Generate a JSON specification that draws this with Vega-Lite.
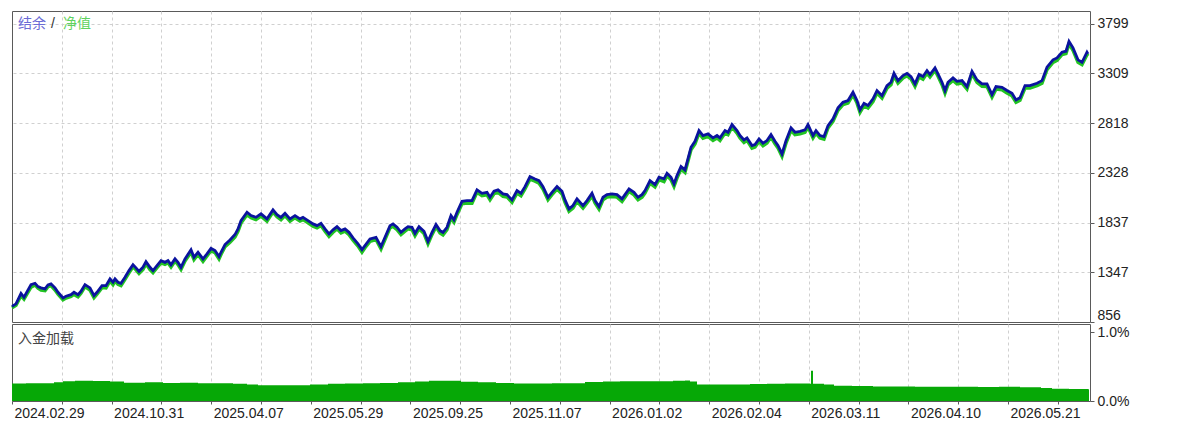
{
  "$schema": "https://vega.github.io/schema/vega-lite/v6.json",
  "background": "white",
  "padding": {"left": 4, "top": 10, "right": 4, "bottom": 0},
  "spacing": 2,
  "bounds": "flush",
  "config": {
    "font": "Liberation Sans",
    "view": {"stroke": "#5a5a5a", "strokeWidth": 1},
    "axis": {
      "labelFont": "Liberation Sans",
      "labelFontSize": 14,
      "labelColor": "#222222",
      "gridColor": "#d0d0d0",
      "gridDash": [3, 3],
      "tickColor": "#5a5a5a",
      "domain": false,
      "title": null
    }
  },
  "datasets": {
    "equity": [
      {"i": 0, "b": 1010, "e": 995},
      {"i": 4, "b": 1035, "e": 1020},
      {"i": 9, "b": 1139, "e": 1115},
      {"i": 12, "b": 1100, "e": 1082},
      {"i": 19, "b": 1225, "e": 1200},
      {"i": 23, "b": 1238, "e": 1222},
      {"i": 26, "b": 1205, "e": 1190},
      {"i": 29, "b": 1193, "e": 1170},
      {"i": 33, "b": 1183, "e": 1165},
      {"i": 36, "b": 1222, "e": 1205},
      {"i": 39, "b": 1232, "e": 1215},
      {"i": 43, "b": 1193, "e": 1172},
      {"i": 46, "b": 1149, "e": 1130},
      {"i": 51, "b": 1094, "e": 1075},
      {"i": 54, "b": 1110, "e": 1092},
      {"i": 59, "b": 1126, "e": 1108},
      {"i": 62, "b": 1149, "e": 1128},
      {"i": 66, "b": 1126, "e": 1105},
      {"i": 69, "b": 1159, "e": 1140},
      {"i": 73, "b": 1225, "e": 1205},
      {"i": 78, "b": 1193, "e": 1170},
      {"i": 82, "b": 1117, "e": 1095},
      {"i": 85, "b": 1149, "e": 1130},
      {"i": 90, "b": 1215, "e": 1195},
      {"i": 94, "b": 1215, "e": 1192},
      {"i": 98, "b": 1281, "e": 1262},
      {"i": 101, "b": 1248, "e": 1225},
      {"i": 103, "b": 1281, "e": 1260},
      {"i": 106, "b": 1248, "e": 1228},
      {"i": 109, "b": 1238, "e": 1215},
      {"i": 113, "b": 1297, "e": 1278},
      {"i": 117, "b": 1363, "e": 1340},
      {"i": 121, "b": 1422, "e": 1400},
      {"i": 124, "b": 1390, "e": 1370},
      {"i": 127, "b": 1356, "e": 1335},
      {"i": 131, "b": 1396, "e": 1375},
      {"i": 134, "b": 1452, "e": 1430},
      {"i": 138, "b": 1396, "e": 1372},
      {"i": 141, "b": 1363, "e": 1342},
      {"i": 145, "b": 1413, "e": 1392},
      {"i": 149, "b": 1462, "e": 1440},
      {"i": 153, "b": 1445, "e": 1425},
      {"i": 156, "b": 1462, "e": 1440},
      {"i": 159, "b": 1420, "e": 1398},
      {"i": 163, "b": 1479, "e": 1458},
      {"i": 166, "b": 1445, "e": 1422},
      {"i": 169, "b": 1396, "e": 1375},
      {"i": 173, "b": 1479, "e": 1458},
      {"i": 179, "b": 1568, "e": 1545},
      {"i": 182, "b": 1495, "e": 1472},
      {"i": 186, "b": 1544, "e": 1522},
      {"i": 191, "b": 1479, "e": 1455},
      {"i": 195, "b": 1528, "e": 1508},
      {"i": 199, "b": 1583, "e": 1560},
      {"i": 203, "b": 1561, "e": 1540},
      {"i": 207, "b": 1501, "e": 1478},
      {"i": 209, "b": 1544, "e": 1522},
      {"i": 213, "b": 1620, "e": 1598},
      {"i": 218, "b": 1666, "e": 1642},
      {"i": 223, "b": 1719, "e": 1695},
      {"i": 226, "b": 1775, "e": 1752},
      {"i": 229, "b": 1857, "e": 1832},
      {"i": 235, "b": 1939, "e": 1915},
      {"i": 239, "b": 1906, "e": 1885},
      {"i": 244, "b": 1889, "e": 1866},
      {"i": 249, "b": 1923, "e": 1900},
      {"i": 255, "b": 1874, "e": 1850},
      {"i": 261, "b": 1962, "e": 1940},
      {"i": 265, "b": 1916, "e": 1895},
      {"i": 269, "b": 1889, "e": 1865},
      {"i": 273, "b": 1929, "e": 1906},
      {"i": 278, "b": 1874, "e": 1850},
      {"i": 283, "b": 1906, "e": 1885},
      {"i": 288, "b": 1874, "e": 1852},
      {"i": 291, "b": 1889, "e": 1866},
      {"i": 296, "b": 1857, "e": 1835},
      {"i": 301, "b": 1824, "e": 1800},
      {"i": 305, "b": 1807, "e": 1785},
      {"i": 309, "b": 1830, "e": 1808},
      {"i": 313, "b": 1775, "e": 1752},
      {"i": 317, "b": 1725, "e": 1700},
      {"i": 321, "b": 1765, "e": 1742},
      {"i": 325, "b": 1797, "e": 1775},
      {"i": 329, "b": 1758, "e": 1735},
      {"i": 333, "b": 1775, "e": 1752},
      {"i": 337, "b": 1741, "e": 1718},
      {"i": 341, "b": 1686, "e": 1662},
      {"i": 346, "b": 1627, "e": 1605},
      {"i": 350, "b": 1570, "e": 1545},
      {"i": 353, "b": 1610, "e": 1588},
      {"i": 358, "b": 1676, "e": 1652},
      {"i": 364, "b": 1692, "e": 1670},
      {"i": 369, "b": 1600, "e": 1576},
      {"i": 373, "b": 1692, "e": 1670},
      {"i": 378, "b": 1807, "e": 1785},
      {"i": 381, "b": 1824, "e": 1800},
      {"i": 385, "b": 1791, "e": 1768},
      {"i": 389, "b": 1741, "e": 1718},
      {"i": 393, "b": 1775, "e": 1752},
      {"i": 396, "b": 1797, "e": 1775},
      {"i": 400, "b": 1791, "e": 1766},
      {"i": 403, "b": 1731, "e": 1708},
      {"i": 407, "b": 1797, "e": 1775},
      {"i": 412, "b": 1751, "e": 1728},
      {"i": 416, "b": 1652, "e": 1628},
      {"i": 420, "b": 1741, "e": 1718},
      {"i": 424, "b": 1817, "e": 1795},
      {"i": 428, "b": 1758, "e": 1735},
      {"i": 431, "b": 1741, "e": 1716},
      {"i": 435, "b": 1791, "e": 1768},
      {"i": 439, "b": 1906, "e": 1882},
      {"i": 442, "b": 1864, "e": 1840},
      {"i": 445, "b": 1939, "e": 1915},
      {"i": 450, "b": 2047, "e": 2022},
      {"i": 455, "b": 2054, "e": 2030},
      {"i": 460, "b": 2054, "e": 2028},
      {"i": 465, "b": 2160, "e": 2135},
      {"i": 470, "b": 2126, "e": 2102},
      {"i": 475, "b": 2136, "e": 2110},
      {"i": 478, "b": 2087, "e": 2062},
      {"i": 482, "b": 2146, "e": 2122},
      {"i": 486, "b": 2160, "e": 2135},
      {"i": 491, "b": 2120, "e": 2095},
      {"i": 495, "b": 2113, "e": 2090},
      {"i": 500, "b": 2061, "e": 2036},
      {"i": 505, "b": 2153, "e": 2128},
      {"i": 509, "b": 2126, "e": 2102},
      {"i": 513, "b": 2192, "e": 2168},
      {"i": 518, "b": 2291, "e": 2265},
      {"i": 523, "b": 2268, "e": 2245},
      {"i": 527, "b": 2251, "e": 2226},
      {"i": 531, "b": 2192, "e": 2168},
      {"i": 536, "b": 2087, "e": 2062},
      {"i": 540, "b": 2136, "e": 2112},
      {"i": 545, "b": 2192, "e": 2168},
      {"i": 550, "b": 2146, "e": 2120},
      {"i": 553, "b": 2061, "e": 2036},
      {"i": 557, "b": 1972, "e": 1948},
      {"i": 561, "b": 2005, "e": 1980},
      {"i": 565, "b": 2071, "e": 2046},
      {"i": 571, "b": 2005, "e": 1980},
      {"i": 575, "b": 2054, "e": 2030},
      {"i": 580, "b": 2126, "e": 2100},
      {"i": 583, "b": 2054, "e": 2030},
      {"i": 587, "b": 1995, "e": 1970},
      {"i": 591, "b": 2087, "e": 2062},
      {"i": 595, "b": 2113, "e": 2088},
      {"i": 600, "b": 2120, "e": 2095},
      {"i": 605, "b": 2113, "e": 2088},
      {"i": 610, "b": 2071, "e": 2046},
      {"i": 613, "b": 2113, "e": 2088},
      {"i": 617, "b": 2170, "e": 2145},
      {"i": 622, "b": 2136, "e": 2110},
      {"i": 626, "b": 2087, "e": 2062},
      {"i": 630, "b": 2113, "e": 2088},
      {"i": 633, "b": 2153, "e": 2128},
      {"i": 638, "b": 2251, "e": 2226},
      {"i": 643, "b": 2212, "e": 2188},
      {"i": 647, "b": 2284, "e": 2260},
      {"i": 652, "b": 2268, "e": 2242},
      {"i": 655, "b": 2324, "e": 2300},
      {"i": 659, "b": 2284, "e": 2260},
      {"i": 662, "b": 2219, "e": 2194},
      {"i": 665, "b": 2301, "e": 2276},
      {"i": 669, "b": 2390, "e": 2365},
      {"i": 673, "b": 2357, "e": 2332},
      {"i": 679, "b": 2580, "e": 2555},
      {"i": 683, "b": 2639, "e": 2614},
      {"i": 687, "b": 2745, "e": 2720},
      {"i": 691, "b": 2696, "e": 2670},
      {"i": 696, "b": 2712, "e": 2688},
      {"i": 701, "b": 2673, "e": 2648},
      {"i": 705, "b": 2696, "e": 2672},
      {"i": 708, "b": 2673, "e": 2648},
      {"i": 713, "b": 2745, "e": 2720},
      {"i": 716, "b": 2728, "e": 2704},
      {"i": 720, "b": 2804, "e": 2780},
      {"i": 725, "b": 2745, "e": 2720},
      {"i": 728, "b": 2696, "e": 2672},
      {"i": 732, "b": 2653, "e": 2628},
      {"i": 735, "b": 2673, "e": 2648},
      {"i": 740, "b": 2597, "e": 2572},
      {"i": 743, "b": 2607, "e": 2582},
      {"i": 747, "b": 2663, "e": 2638},
      {"i": 751, "b": 2620, "e": 2595},
      {"i": 755, "b": 2646, "e": 2622},
      {"i": 759, "b": 2705, "e": 2680},
      {"i": 763, "b": 2639, "e": 2614},
      {"i": 766, "b": 2597, "e": 2572},
      {"i": 770, "b": 2515, "e": 2490},
      {"i": 774, "b": 2646, "e": 2620},
      {"i": 779, "b": 2772, "e": 2748},
      {"i": 783, "b": 2728, "e": 2704},
      {"i": 788, "b": 2738, "e": 2712},
      {"i": 793, "b": 2752, "e": 2728},
      {"i": 796, "b": 2804, "e": 2780},
      {"i": 801, "b": 2696, "e": 2672},
      {"i": 804, "b": 2745, "e": 2720},
      {"i": 808, "b": 2696, "e": 2672},
      {"i": 812, "b": 2686, "e": 2660},
      {"i": 816, "b": 2794, "e": 2770},
      {"i": 821, "b": 2860, "e": 2835},
      {"i": 826, "b": 2969, "e": 2944},
      {"i": 831, "b": 3024, "e": 3000},
      {"i": 836, "b": 3041, "e": 3016},
      {"i": 841, "b": 3123, "e": 3098},
      {"i": 845, "b": 3041, "e": 3016},
      {"i": 848, "b": 2949, "e": 2924},
      {"i": 852, "b": 3014, "e": 2990},
      {"i": 856, "b": 2992, "e": 2968},
      {"i": 861, "b": 3058, "e": 3032},
      {"i": 865, "b": 3140, "e": 3115},
      {"i": 870, "b": 3090, "e": 3066},
      {"i": 875, "b": 3189, "e": 3164},
      {"i": 879, "b": 3222, "e": 3198},
      {"i": 882, "b": 3310, "e": 3285},
      {"i": 886, "b": 3238, "e": 3212},
      {"i": 891, "b": 3288, "e": 3264},
      {"i": 895, "b": 3310, "e": 3285},
      {"i": 899, "b": 3278, "e": 3254},
      {"i": 903, "b": 3206, "e": 3182},
      {"i": 907, "b": 3298, "e": 3274},
      {"i": 911, "b": 3278, "e": 3252},
      {"i": 915, "b": 3337, "e": 3312},
      {"i": 918, "b": 3298, "e": 3274},
      {"i": 923, "b": 3364, "e": 3340},
      {"i": 926, "b": 3305, "e": 3280},
      {"i": 930, "b": 3222, "e": 3198},
      {"i": 933, "b": 3140, "e": 3115},
      {"i": 936, "b": 3222, "e": 3198},
      {"i": 941, "b": 3265, "e": 3240},
      {"i": 945, "b": 3231, "e": 3206},
      {"i": 950, "b": 3238, "e": 3214},
      {"i": 955, "b": 3179, "e": 3155},
      {"i": 960, "b": 3330, "e": 3306},
      {"i": 965, "b": 3245, "e": 3220},
      {"i": 970, "b": 3206, "e": 3182},
      {"i": 975, "b": 3206, "e": 3180},
      {"i": 980, "b": 3100, "e": 3076},
      {"i": 984, "b": 3179, "e": 3154},
      {"i": 990, "b": 3172, "e": 3148},
      {"i": 995, "b": 3140, "e": 3115},
      {"i": 1000, "b": 3113, "e": 3088},
      {"i": 1004, "b": 3048, "e": 3024},
      {"i": 1008, "b": 3068, "e": 3044},
      {"i": 1013, "b": 3189, "e": 3164},
      {"i": 1018, "b": 3189, "e": 3165},
      {"i": 1025, "b": 3212, "e": 3188},
      {"i": 1030, "b": 3238, "e": 3212},
      {"i": 1035, "b": 3370, "e": 3345},
      {"i": 1041, "b": 3443, "e": 3418},
      {"i": 1045, "b": 3462, "e": 3438},
      {"i": 1050, "b": 3518, "e": 3494},
      {"i": 1054, "b": 3528, "e": 3504},
      {"i": 1057, "b": 3626, "e": 3600},
      {"i": 1061, "b": 3561, "e": 3536},
      {"i": 1066, "b": 3443, "e": 3418},
      {"i": 1070, "b": 3419, "e": 3395},
      {"i": 1075, "b": 3518, "e": 3494},
      {"i": 1076, "b": 3502, "e": 3480}
    ],
    "load": [
      {"i": 0, "p": 0.254},
      {"i": 14, "p": 0.257},
      {"i": 28, "p": 0.259},
      {"i": 42, "p": 0.27},
      {"i": 51, "p": 0.286},
      {"i": 63, "p": 0.292},
      {"i": 81, "p": 0.289},
      {"i": 98, "p": 0.283},
      {"i": 112, "p": 0.265},
      {"i": 133, "p": 0.27},
      {"i": 151, "p": 0.262},
      {"i": 168, "p": 0.265},
      {"i": 186, "p": 0.259},
      {"i": 203, "p": 0.259},
      {"i": 221, "p": 0.251},
      {"i": 235, "p": 0.238},
      {"i": 246, "p": 0.229},
      {"i": 267, "p": 0.227},
      {"i": 284, "p": 0.227},
      {"i": 298, "p": 0.238},
      {"i": 316, "p": 0.251},
      {"i": 333, "p": 0.254},
      {"i": 351, "p": 0.259},
      {"i": 368, "p": 0.262},
      {"i": 386, "p": 0.27},
      {"i": 403, "p": 0.283},
      {"i": 417, "p": 0.294},
      {"i": 431, "p": 0.292},
      {"i": 449, "p": 0.279},
      {"i": 466, "p": 0.27},
      {"i": 484, "p": 0.261},
      {"i": 502, "p": 0.255},
      {"i": 519, "p": 0.254},
      {"i": 540, "p": 0.259},
      {"i": 556, "p": 0.259},
      {"i": 573, "p": 0.275},
      {"i": 591, "p": 0.283},
      {"i": 608, "p": 0.286},
      {"i": 626, "p": 0.286},
      {"i": 643, "p": 0.286},
      {"i": 661, "p": 0.292},
      {"i": 673, "p": 0.297},
      {"i": 678, "p": 0.283},
      {"i": 685, "p": 0.24},
      {"i": 703, "p": 0.238},
      {"i": 720, "p": 0.24},
      {"i": 738, "p": 0.246},
      {"i": 755, "p": 0.251},
      {"i": 773, "p": 0.254},
      {"i": 791, "p": 0.254},
      {"i": 798, "p": 0.251},
      {"i": 799, "p": 0.44},
      {"i": 801, "p": 0.251},
      {"i": 812, "p": 0.238},
      {"i": 822, "p": 0.221},
      {"i": 840, "p": 0.216},
      {"i": 861, "p": 0.211},
      {"i": 882, "p": 0.211},
      {"i": 903, "p": 0.205},
      {"i": 924, "p": 0.205},
      {"i": 945, "p": 0.205},
      {"i": 966, "p": 0.203},
      {"i": 987, "p": 0.205},
      {"i": 1008, "p": 0.2},
      {"i": 1029, "p": 0.189},
      {"i": 1040, "p": 0.176},
      {"i": 1057, "p": 0.173},
      {"i": 1076, "p": 0.171},
      {"i": 1077, "p": 0.171}
    ]
  },
  "vconcat": [
    {
      "width": 1078,
      "height": 311,
      "layer": [
        {
          "data": {"name": "equity"},
          "mark": {"type": "line", "color": "#22c422", "strokeWidth": 3.4},
          "encoding": {
            "x": {
              "field": "i",
              "type": "quantitative",
              "scale": {"domain": [0, 1078], "nice": false, "zero": false},
              "axis": {
                "values": [49.8, 99.6, 149.4, 199.2, 249, 298.8, 348.6, 398.4, 448.2, 498, 547.8, 597.6, 647.4, 697.2, 747, 796.8, 846.6, 896.4, 946.2, 996, 1045.8],
                "labels": false,
                "ticks": false,
                "grid": true,
                "minExtent": 0,
                "maxExtent": 0
              }
            },
            "y": {
              "field": "e",
              "type": "quantitative",
              "scale": {"domain": [856, 3925], "nice": false, "zero": false},
              "axis": {
                "orient": "right",
                "values": [856, 1347, 1837, 2328, 2818, 3309, 3799],
                "format": "d",
                "grid": true,
                "gridOpacity": {"condition": {"test": "datum.value == 856", "value": 0}, "value": 1},
                "tickSize": 4,
                "labelPadding": 3,
                "labelBaseline": {"condition": {"test": "datum.value == 856", "value": "bottom"}, "value": "middle"}
              }
            }
          }
        },
        {
          "data": {"name": "equity"},
          "mark": {"type": "line", "color": "#0b139e", "strokeWidth": 2.8},
          "encoding": {
            "x": {"field": "i", "type": "quantitative"},
            "y": {"field": "b", "type": "quantitative"}
          }
        },
        {
          "data": {"values": [{}]},
          "mark": {"type": "text", "text": "结余", "align": "left", "baseline": "middle", "font": "Noto Sans CJK SC", "fontSize": 14, "color": "#6b6bd6"},
          "encoding": {"x": {"datum": 6, "type": "quantitative"}, "y": {"datum": 3796, "type": "quantitative"}}
        },
        {
          "data": {"values": [{}]},
          "mark": {"type": "text", "text": "/", "align": "left", "baseline": "middle", "font": "Liberation Sans", "fontSize": 14, "color": "#333333"},
          "encoding": {"x": {"datum": 39, "type": "quantitative"}, "y": {"datum": 3796, "type": "quantitative"}}
        },
        {
          "data": {"values": [{}]},
          "mark": {"type": "text", "text": "净值", "align": "left", "baseline": "middle", "font": "Noto Sans CJK SC", "fontSize": 14, "color": "#5fd35f"},
          "encoding": {"x": {"datum": 51, "type": "quantitative"}, "y": {"datum": 3796, "type": "quantitative"}}
        }
      ]
    },
    {
      "width": 1078,
      "height": 77,
      "layer": [
        {
          "data": {"name": "load"},
          "mark": {"type": "area", "color": "#06a806", "interpolate": "step-after"},
          "encoding": {
            "x": {
              "field": "i",
              "type": "quantitative",
              "scale": {"domain": [0, 1078], "nice": false, "zero": false},
              "axis": {
                "values": [0, 49.8, 99.6, 149.4, 199.2, 249, 298.8, 348.6, 398.4, 448.2, 498, 547.8, 597.6, 647.4, 697.2, 747, 796.8, 846.6, 896.4, 946.2, 996, 1045.8],
                "labelExpr": "round(datum.value / 49.8) % 2 == 0 ? ['2024.02.29', '2024.10.31', '2025.04.07', '2025.05.29', '2025.09.25', '2025.11.07', '2026.01.02', '2026.02.04', '2026.03.11', '2026.04.10', '2026.05.21'][round(datum.value / 99.6)] : ''",
                "labelAlign": "left",
                "labelOffset": 2,
                "labelPadding": 2,
                "labelFlush": false,
                "labelOverlap": false,
                "tickSize": 3,
                "grid": true,
                "gridOpacity": {"condition": {"test": "datum.value == 0", "value": 0}, "value": 1}
              }
            },
            "y": {
              "field": "p",
              "type": "quantitative",
              "scale": {"domain": [0, 1.116], "nice": false, "zero": false},
              "axis": {
                "orient": "right",
                "values": [0, 1],
                "labelExpr": "format(datum.value, '.1f') + '%'",
                "grid": false,
                "tickSize": 4,
                "labelPadding": 3
              }
            }
          }
        },
        {
          "data": {"values": [{}]},
          "mark": {"type": "text", "text": "入金加载", "align": "left", "baseline": "middle", "font": "Noto Sans CJK SC", "fontSize": 14, "color": "#444444"},
          "encoding": {"x": {"datum": 6, "type": "quantitative"}, "y": {"datum": 0.9, "type": "quantitative"}}
        }
      ]
    }
  ]
}
